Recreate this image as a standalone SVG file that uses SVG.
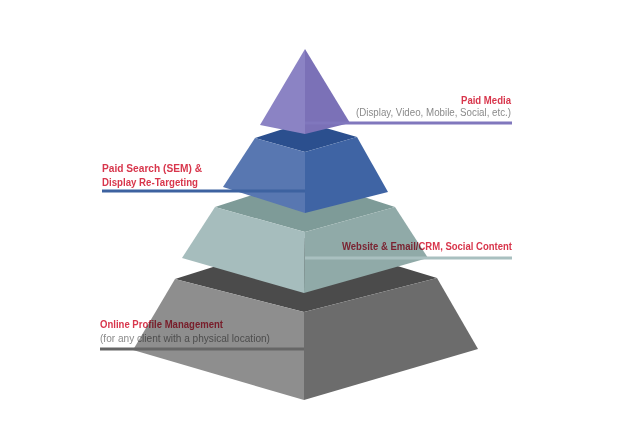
<svg xmlns="http://www.w3.org/2000/svg" width="640" height="438" viewBox="0 0 640 438">
<style>
.h{font-family:"Liberation Sans",Arial,sans-serif;font-weight:bold;font-size:11px;fill:#d8364c}
.s{font-family:"Liberation Sans",Arial,sans-serif;font-size:10px;fill:#8a8a8a}
.ln{stroke-width:3;fill:none}
#labels{mix-blend-mode:multiply}
</style>
<rect width="640" height="438" fill="#ffffff"/>
<g id="tier-online-profile">
<polygon points="175,279 305,238 437,278 304,312" fill="#4b4b4b"/>
<polygon points="175,279 304,312 304,400 133,350" fill="#8e8e8e"/>
<polygon points="304,312 437,278 478,349 304,400" fill="#6c6c6c"/>
</g>
<g id="tier-website">
<polygon points="215,207 305,178 395,207 305,232" fill="#7e9b98"/>
<polygon points="215,207 305,232 304,293 182,258" fill="#a6bdbd"/>
<polygon points="305,232 395,207 428,258 304,293" fill="#90aaa8"/>
</g>
<g id="tier-paid-search">
<polygon points="255,138 305,122 357,137 305,152" fill="#2b4f8e"/>
<polygon points="255,138 305,152 305,213 223,187" fill="#5877b1"/>
<polygon points="305,152 357,137 388,192 305,213" fill="#3f64a4"/>
</g>
<g id="tier-paid-media">
<polygon points="305,49 260,125 305,134" fill="#8b83c4"/>
<polygon points="305,49 305,134 350,123" fill="#7b71b7"/>
</g>
<g id="connectors">
<line class="ln" x1="305" y1="123" x2="512" y2="123" stroke="#8077bd"/>
<line class="ln" x1="102" y1="191" x2="305" y2="191" stroke="#3d62a0"/>
<line class="ln" x1="305" y1="258" x2="512" y2="258" stroke="#a9c0c0"/>
<line class="ln" x1="100" y1="349" x2="304" y2="349" stroke="#666666"/>
</g>
<g id="labels">
<text class="h" x="511" y="104" text-anchor="end" textLength="50" lengthAdjust="spacingAndGlyphs">Paid Media</text>
<text class="s" x="511" y="116" text-anchor="end" textLength="155" lengthAdjust="spacingAndGlyphs">(Display, Video, Mobile, Social, etc.)</text>
<text class="h" x="102" y="172" textLength="100" lengthAdjust="spacingAndGlyphs">Paid Search (SEM) &amp;</text>
<text class="h" x="102" y="186" textLength="96" lengthAdjust="spacingAndGlyphs">Display Re-Targeting</text>
<text class="h" x="512" y="250" text-anchor="end" textLength="170" lengthAdjust="spacingAndGlyphs">Website &amp; Email/CRM, Social Content</text>
<text class="h" x="100" y="328" textLength="123" lengthAdjust="spacingAndGlyphs">Online Profile Management</text>
<text class="s" x="100" y="342" textLength="170" lengthAdjust="spacingAndGlyphs">(for any client with a physical location)</text>
</g>
</svg>
